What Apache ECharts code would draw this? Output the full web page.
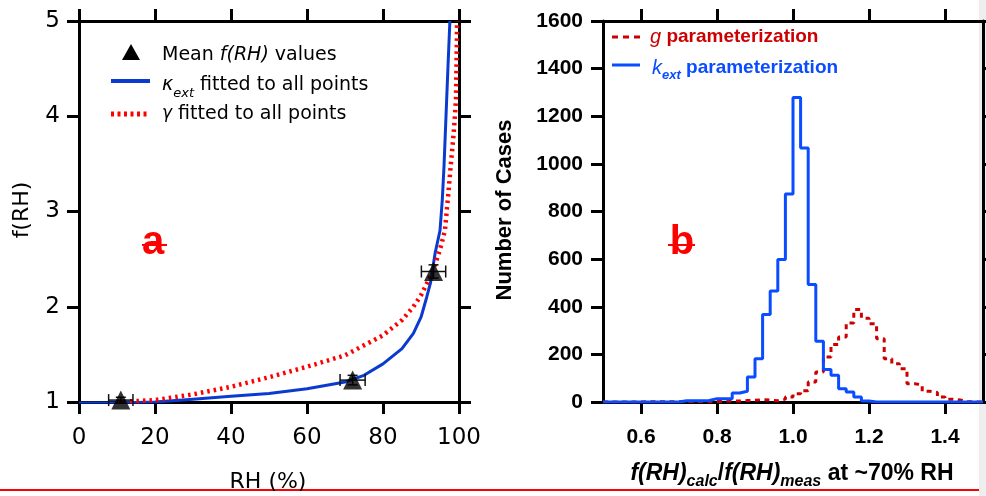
<!DOCTYPE html>
<html>
<head>
<meta charset="utf-8">
<title>f(RH)</title>
<script src="https://cdn.jsdelivr.net/npm/echarts@6/dist/echarts.min.js"></script>
<style>
  html, body { margin: 0; padding: 0; background: #fff; }
  #chart { width: 986px; height: 496px; }
</style>
</head>
<body>
<div id="chart"></div>
<script>
// ---- panel a : mean f(RH) with error bars ----
var rhMean = [11.0, 72.0, 93.3];
var fMean = [1.02, 1.23, 2.37];
var rhErr = [3.2, 3.3, 3.2];
var fErr = [0.03, 0.05, 0.07];

// ---- panel a : fitted curves ----
var kappaRH = [0, 10, 20, 30, 40, 50, 60, 70, 75, 80, 85, 88, 90, 91.5, 92.5, 93.7, 95.0, 95.6, 96.05, 96.4, 96.75, 97.1, 97.6];
var kappaF  = [0.99, 0.99, 1.0, 1.03, 1.06, 1.09, 1.14, 1.21, 1.28, 1.40, 1.56, 1.72, 1.89, 2.10, 2.25, 2.56, 2.80, 3.12, 3.47, 3.82, 4.17, 4.52, 5.0];
var gammaRH = [10, 20, 30, 40, 50, 60, 70, 80, 85, 88, 90, 92, 93.5, 95, 96.3, 97.2, 97.8, 98.6, 99.2, 99.4, 99.5];
var gammaF  = [1.0, 1.02, 1.08, 1.16, 1.26, 1.37, 1.49, 1.70, 1.86, 2.0, 2.12, 2.28, 2.42, 2.6, 2.8, 3.19, 3.47, 3.82, 4.17, 4.69, 5.0];

// ---- panel b : histograms ----
var binEdges = [0.50, 0.52, 0.54, 0.56, 0.58, 0.60, 0.62, 0.64, 0.66, 0.68,
                0.70, 0.72, 0.74, 0.76, 0.78, 0.80, 0.82, 0.84, 0.86, 0.88,
                0.90, 0.92, 0.94, 0.96, 0.98, 1.00, 1.02, 1.04, 1.06, 1.08,
                1.10, 1.12, 1.14, 1.16, 1.18, 1.20, 1.22, 1.24, 1.26, 1.28,
                1.30, 1.32, 1.34, 1.36, 1.38, 1.40, 1.42, 1.44, 1.46, 1.48, 1.50];
var kappaCounts = [0, 0, 0, 0, 0, 0, 0, 0, 0, 0,
                   5, 5, 5, 6, 14, 14, 14, 38, 45, 105,
                   182, 367, 466, 598, 873, 1279, 1067, 493, 255, 136,
                   112, 56, 42, 21, 4, 0, 0, 0, 0, 0,
                   0, 0, 0, 0, 0, 0, 0, 0, 0, 0];
var gammaCounts = [0, 0, 0, 0, 0, 1, 1, 1, 1, 1,
                   2, 2, 2, 2, 2, 4, 4, 4, 6, 7,
                   10, 8, 5, 12, 21, 35, 47, 84, 126, 189,
                   241, 273, 332, 388, 352, 329, 266, 182, 161, 140,
                   77, 72, 45, 40, 21, 12, 8, 2, 0, 0];
var ticksB = [0.6, 0.8, 1.0, 1.2, 1.4];

var BLUE_A = '#0a3bd0';
var RED_A = '#ff0000';
var BLUE_B = '#0a4cff';
var RED_B = '#cc0000';
var FONT_A = 'DejaVu Sans';
var FONT_B = 'Liberation Sans';

function zip(xs, ys) {
  return xs.map(function (x, i) { return [x, ys[i]]; });
}
function stepData(edges, counts) {
  return edges.map(function (e, i) {
    return [e, i < counts.length ? counts[i] : counts[counts.length - 1]];
  });
}

var lineBlack = { show: true, onZero: false, lineStyle: { color: '#000', width: 3 } };
var tickOut = { show: true, inside: false, length: 12, lineStyle: { color: '#000', width: 3 } };

function axis(o) {
  var a = {
    type: 'value',
    axisLine: lineBlack,
    axisTick: tickOut,
    splitLine: { show: false },
    axisLabel: { show: false }
  };
  for (var k in o) a[k] = o[k];
  return a;
}

var labA = { show: true, color: '#000', fontFamily: FONT_A, fontSize: 23 };
var labB = { show: true, color: '#000', fontFamily: FONT_B, fontSize: 21, fontWeight: 'bold' };

var chart = echarts.init(document.getElementById('chart'));

var option = {
  animation: false,
  backgroundColor: '#fff',
  grid: [
    { left: 79, top: 21, width: 380, height: 381 },
    { left: 603, top: 21, width: 380, height: 381 }
  ],
  xAxis: [
    axis({ gridIndex: 0, position: 'bottom', min: 0, max: 100, interval: 20,
           axisLabel: Object.assign({ margin: 25 }, labA) }),
    axis({ gridIndex: 0, position: 'top', min: 0, max: 100, interval: 20 }),
    axis({ gridIndex: 1, position: 'bottom', min: 0.5, max: 1.5,
           axisTick: Object.assign({ customValues: ticksB }, tickOut),
           axisLabel: Object.assign({ margin: 25, customValues: ticksB,
             formatter: function (v) { return v.toFixed(1); } }, labB) }),
    axis({ gridIndex: 1, position: 'top', min: 0.5, max: 1.5,
           axisTick: Object.assign({ customValues: ticksB }, tickOut) })
  ],
  yAxis: [
    axis({ gridIndex: 0, position: 'left', min: 1, max: 5, interval: 1,
           axisLabel: Object.assign({ margin: 19 }, labA) }),
    axis({ gridIndex: 0, position: 'right', min: 1, max: 5, interval: 1 }),
    axis({ gridIndex: 1, position: 'left', min: 0, max: 1600, interval: 200,
           axisLabel: Object.assign({ margin: 20, formatter: function (v) { return String(v); } }, labB) }),
    axis({ gridIndex: 1, position: 'right', min: 0, max: 1600, interval: 200 })
  ],
  series: [
    {
      type: 'line', xAxisIndex: 0, yAxisIndex: 0, showSymbol: false, z: 3,
      data: zip(kappaRH, kappaF),
      lineStyle: { color: BLUE_A, width: 3 }
    },
    {
      type: 'line', xAxisIndex: 0, yAxisIndex: 0, showSymbol: false, z: 4,
      data: zip(gammaRH, gammaF),
      lineStyle: { color: RED_A, width: 4.5, type: [2.5, 4] }
    },
    {
      type: 'custom', xAxisIndex: 0, yAxisIndex: 0, z: 5,
      data: rhMean.map(function (x, i) { return [x, fMean[i], rhErr[i], fErr[i]]; }),
      encode: { x: 0, y: 1 },
      renderItem: function (params, api) {
        var x = api.value(0), y = api.value(1), dx = api.value(2), dy = api.value(3);
        var l = api.coord([x - dx, y]), r = api.coord([x + dx, y]);
        var t = api.coord([x, y + dy]), b = api.coord([x, y - dy]);
        var cap = 6;
        var st = { stroke: '#111', lineWidth: 1.5 };
        function seg(x1, y1, x2, y2) {
          return { type: 'line', shape: { x1: x1, y1: y1, x2: x2, y2: y2 }, style: st };
        }
        return {
          type: 'group',
          children: [
            seg(l[0], l[1], r[0], r[1]),
            seg(l[0], l[1] - cap, l[0], l[1] + cap),
            seg(r[0], r[1] - cap, r[0], r[1] + cap),
            seg(t[0], t[1], b[0], b[1]),
            seg(t[0] - 5, t[1], t[0] + 5, t[1]),
            seg(b[0] - 5, b[1], b[0] + 5, b[1])
          ]
        };
      }
    },
    {
      type: 'scatter', xAxisIndex: 0, yAxisIndex: 0, z: 6,
      symbol: 'triangle', symbolSize: 19,
      data: zip(rhMean, fMean),
      itemStyle: { color: '#000' }
    },
    {
      type: 'line', xAxisIndex: 2, yAxisIndex: 2, showSymbol: false, step: 'end', z: 3,
      data: stepData(binEdges, gammaCounts),
      lineStyle: { color: RED_B, width: 3, type: [5, 4.5] }
    },
    {
      type: 'line', xAxisIndex: 2, yAxisIndex: 2, showSymbol: false, step: 'end', z: 4,
      data: stepData(binEdges, kappaCounts),
      lineStyle: { color: BLUE_B, width: 3 }
    }
  ],
  graphic: [
    // right edge strip and bottom rule
    { type: 'rect', z: -1, silent: true, shape: { x: 979, y: 0, width: 7, height: 496 }, style: { fill: '#eeeeee' } },
    { type: 'line', z: 50, silent: true, shape: { x1: 0, y1: 490, x2: 979, y2: 490 }, style: { stroke: '#ff0000', lineWidth: 2 } },

    // panel a legend
    { type: 'polygon', z: 50, shape: { points: [[122, 60], [140, 60], [131, 44]] }, style: { fill: '#000' } },
    { type: 'text', z: 50, x: 162, y: 55, style: {
        text: 'Mean {i|f(RH)} values', font: '19px "DejaVu Sans"', fill: '#000', verticalAlign: 'middle',
        rich: { i: { fontStyle: 'italic', fontFamily: FONT_A, fontSize: 19 } } } },
    { type: 'line', z: 50, shape: { x1: 111, y1: 81, x2: 150, y2: 81 }, style: { stroke: BLUE_A, lineWidth: 4 } },
    { type: 'text', z: 50, x: 162, y: 85, style: {
        text: '{k|κ}{s|ext}{n| fitted to all points}', fill: '#000', verticalAlign: 'middle',
        rich: {
          k: { fontStyle: 'italic', fontFamily: FONT_A, fontSize: 19, lineHeight: 30, verticalAlign: 'middle' },
          s: { fontStyle: 'italic', fontFamily: FONT_A, fontSize: 13, lineHeight: 30, verticalAlign: 'bottom' },
          n: { fontFamily: FONT_A, fontSize: 19, lineHeight: 30, verticalAlign: 'middle' }
        } } },
    { type: 'line', z: 50, shape: { x1: 111, y1: 114, x2: 147, y2: 114 }, style: { stroke: RED_A, lineWidth: 5, lineDash: [3, 3.5] } },
    { type: 'text', z: 50, x: 162, y: 114, style: {
        text: '{k|γ}{n| fitted to all points}', fill: '#000', verticalAlign: 'middle',
        rich: {
          k: { fontStyle: 'italic', fontFamily: FONT_A, fontSize: 17 },
          n: { fontFamily: FONT_A, fontSize: 19 }
        } } },

    // panel letters
    { type: 'text', z: 50, x: 153, y: 243, style: { text: 'a', font: 'bold 40px "Liberation Sans"', fill: RED_A, align: 'center', verticalAlign: 'middle' } },
    { type: 'line', z: 51, shape: { x1: 142, y1: 245, x2: 167, y2: 245 }, style: { stroke: RED_A, lineWidth: 2 } },
    { type: 'text', z: 50, x: 682, y: 243, style: { text: 'b', font: 'bold 40px "Liberation Sans"', fill: RED_A, align: 'center', verticalAlign: 'middle' } },
    { type: 'line', z: 51, shape: { x1: 668, y1: 245, x2: 695, y2: 245 }, style: { stroke: RED_A, lineWidth: 2 } },

    // panel a axis names
    { type: 'text', z: 50, x: 22, y: 210, rotation: Math.PI / 2, style: { text: 'f(RH)', font: '22px "DejaVu Sans"', fill: '#000', align: 'center', verticalAlign: 'middle' } },
    { type: 'text', z: 50, x: 268, y: 482, style: { text: 'RH (%)', font: '22px "DejaVu Sans"', fill: '#000', align: 'center', verticalAlign: 'middle' } },

    // panel b legend
    { type: 'line', z: 50, shape: { x1: 612, y1: 37, x2: 640, y2: 37 }, style: { stroke: RED_B, lineWidth: 3, lineDash: [6, 5] } },
    { type: 'text', z: 50, x: 650, y: 37, style: {
        text: '{g|g} {n|parameterization}', fill: RED_B, verticalAlign: 'middle', font: 'bold 19px "Liberation Sans"',
        rich: {
          g: { fontStyle: 'italic', fontFamily: FONT_B, fontSize: 20, fontWeight: 'normal', fill: RED_B },
          n: { fontFamily: FONT_B, fontSize: 19, fontWeight: 'bold', fill: RED_B }
        } } },
    { type: 'line', z: 50, shape: { x1: 612, y1: 65, x2: 640, y2: 65 }, style: { stroke: BLUE_B, lineWidth: 3 } },
    { type: 'text', z: 50, x: 652, y: 68, style: {
        text: '{k|k}{s|ext}{n| parameterization}', fill: BLUE_B, verticalAlign: 'middle', font: 'bold 19px "Liberation Sans"',
        rich: {
          k: { fontStyle: 'italic', fontFamily: FONT_B, fontSize: 20, lineHeight: 28, verticalAlign: 'middle', fill: BLUE_B },
          s: { fontStyle: 'italic', fontFamily: FONT_B, fontSize: 13, fontWeight: 'bold', lineHeight: 28, verticalAlign: 'bottom', fill: BLUE_B },
          n: { fontFamily: FONT_B, fontSize: 19, fontWeight: 'bold', lineHeight: 28, verticalAlign: 'middle', fill: BLUE_B }
        } } },

    // panel b axis names
    { type: 'text', z: 50, x: 505, y: 210, rotation: Math.PI / 2, style: { text: 'Number of Cases', font: 'bold 22px "Liberation Sans"', fill: '#000', align: 'center', verticalAlign: 'middle' } },
    { type: 'text', z: 50, x: 792, y: 474, style: {
        text: '{i|f(RH)}{s|calc}{n|/}{i|f(RH)}{s|meas}{n| at ~70% RH}', fill: '#000', align: 'center', verticalAlign: 'middle',
        rich: {
          i: { fontStyle: 'italic', fontWeight: 'bold', fontFamily: FONT_B, fontSize: 23, lineHeight: 32, verticalAlign: 'middle' },
          s: { fontStyle: 'italic', fontWeight: 'bold', fontFamily: FONT_B, fontSize: 16, lineHeight: 32, verticalAlign: 'bottom' },
          n: { fontWeight: 'bold', fontFamily: FONT_B, fontSize: 23, lineHeight: 32, verticalAlign: 'middle' }
        } } }
  ]
};

chart.setOption(option);
</script>
</body>
</html>
